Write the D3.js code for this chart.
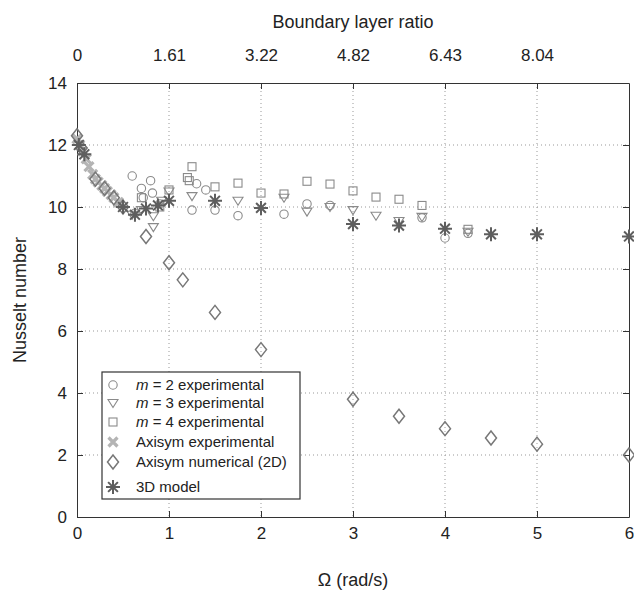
<!DOCTYPE html>
<html>
<head>
<meta charset="utf-8">
<script src="https://cdn.jsdelivr.net/npm/d3@7"></script>
<style>
  body { margin: 0; background: #fff; }
  text { font-family: 'Liberation Sans', Arial, sans-serif; fill: #222; }
</style>
</head>
<body>
<div id="chart"></div>
<script>
// m = 2 experimental (circles)
var m2_x = [0.6, 0.63, 0.7, 0.72, 0.8, 0.82, 0.9, 1.25, 1.3, 1.4, 1.5, 1.75, 2.25, 2.5, 2.75, 3.75, 4.0, 4.25]
var m2_y = [11.0, 9.8, 10.6, 10.3, 10.85, 10.45, 10.1, 9.9, 10.75, 10.55, 9.9, 9.72, 9.77, 10.1, 10.05, 9.65, 9.0, 9.15]
// m = 3 experimental (triangles)
var m3_x = [0.6, 0.7, 0.83, 0.83, 0.92, 1.0, 1.25, 1.75, 2.25, 2.5, 2.75, 3.0, 3.25, 3.5, 3.75, 4.25]
var m3_y = [9.75, 9.9, 9.7, 9.35, 10.2, 10.5, 10.35, 10.2, 10.3, 9.85, 10.0, 9.9, 9.72, 9.55, 9.68, 9.2]
// m = 4 experimental (squares)
var m4_x = [0.7, 0.9, 1.0, 1.2, 1.22, 1.25, 1.5, 1.75, 2.0, 2.25, 2.5, 2.75, 3.0, 3.25, 3.5, 3.75, 4.25]
var m4_y = [10.3, 10.0, 10.55, 10.95, 10.85, 11.3, 10.65, 10.77, 10.45, 10.42, 10.83, 10.74, 10.52, 10.32, 10.25, 10.05, 9.28]
// Axisym experimental (crosses)
var axe_x = [0.0, 0.03, 0.06, 0.1, 0.13, 0.17, 0.2, 0.23, 0.27, 0.3, 0.33, 0.37, 0.4, 0.45]
var axe_y = [12.2, 12.0, 11.8, 11.55, 11.3, 11.05, 10.9, 10.8, 10.7, 10.6, 10.5, 10.4, 10.3, 10.15]
// Axisym numerical 2D (diamonds)
var axn_x = [0.0, 0.05, 0.2, 0.3, 0.4, 0.5, 0.75, 1.0, 1.15, 1.5, 2.0, 3.0, 3.5, 4.0, 4.5, 5.0, 6.0]
var axn_y = [12.3, 11.9, 10.9, 10.6, 10.3, 10.0, 9.05, 8.2, 7.65, 6.6, 5.4, 3.8, 3.25, 2.85, 2.55, 2.35, 2.0]
// 3D model (asterisks)
var m3d_x = [0.02, 0.08, 0.5, 0.63, 0.75, 0.88, 1.0, 1.5, 2.0, 3.0, 3.5, 4.0, 4.5, 5.0, 6.0]
var m3d_y = [12.0, 11.7, 10.0, 9.75, 9.95, 10.05, 10.2, 10.2, 9.97, 9.45, 9.4, 9.3, 9.12, 9.12, 9.05]

var x_ticks = [0, 1, 2, 3, 4, 5, 6]
var y_ticks = [0, 2, 4, 6, 8, 10, 12, 14]
var top_ticks = [0, 1, 2, 3, 4, 5]
var top_labels = ['0', '1.61', '3.22', '4.82', '6.43', '8.04']

var legend_labels = [
  ['m', ' = 2 experimental'],
  ['m', ' = 3 experimental'],
  ['m', ' = 4 experimental'],
  ['', 'Axisym experimental'],
  ['', 'Axisym numerical (2D)'],
  ['', '3D model']
]

var w = 634
var h = 592
// plot box edges (named so they don't clash with window.top)
var pl = 77, pr = 629, pt = 83, pb = 517

var svg = d3.select('#chart').append('svg')
  .attr('width', w)
  .attr('height', h)

var x = d3.scaleLinear().domain([0, 6]).range([pl, pr])
var y = d3.scaleLinear().domain([0, 14]).range([pb, pt])

// grid
var grid = svg.append('g')
x_ticks.slice(1, -1).forEach(function (t) {
  grid.append('line').attr('x1', x(t)).attr('x2', x(t)).attr('y1', pt).attr('y2', pb)
})
y_ticks.slice(1, -1).forEach(function (t) {
  grid.append('line').attr('x1', pl).attr('x2', pr).attr('y1', y(t)).attr('y2', y(t))
})
grid.selectAll('line')
  .attr('stroke', '#999')
  .attr('stroke-width', 1)
  .attr('stroke-dasharray', '1,3')

// axes
var tick_len = 6
var ax_b = svg.append('g').attr('transform', 'translate(0,' + pb + ')')
  .call(d3.axisBottom(x).tickValues(x_ticks).tickFormat(d3.format('d')).tickSizeInner(-tick_len).tickSizeOuter(0).tickPadding(10))
var ax_t = svg.append('g').attr('transform', 'translate(0,' + pt + ')')
  .call(d3.axisTop(x).tickValues(top_ticks).tickFormat(function (d, i) { return top_labels[i] }).tickSizeInner(-tick_len).tickSizeOuter(0).tickPadding(22))
var ax_l = svg.append('g').attr('transform', 'translate(' + pl + ',0)')
  .call(d3.axisLeft(y).tickValues(y_ticks).tickSizeInner(-tick_len).tickSizeOuter(0).tickPadding(10))
var ax_r = svg.append('g').attr('transform', 'translate(' + pr + ',0)')
  .call(d3.axisRight(y).tickValues(y_ticks).tickSizeInner(-tick_len).tickSizeOuter(0).tickFormat(''))

;[ax_b, ax_t, ax_l, ax_r].forEach(function (a) {
  a.select('.domain').attr('stroke', '#333')
  a.selectAll('.tick line').attr('stroke', '#333')
  a.selectAll('.tick text').style('font-size', '17px').attr('fill', '#222')
})

// axis titles
svg.append('text').text('Boundary layer ratio')
  .attr('x', (pl + pr) / 2).attr('y', 22).attr('dy', '0.35em')
  .attr('text-anchor', 'middle').style('font-size', '18px')
svg.append('text').text('Ω (rad/s)')
  .attr('x', (pl + pr) / 2).attr('y', 580).attr('dy', '0.35em')
  .attr('text-anchor', 'middle').style('font-size', '18px')
svg.append('text').text('Nusselt number')
  .attr('transform', 'translate(20,' + ((pt + pb) / 2) + ') rotate(-90)')
  .attr('dy', '0.35em')
  .attr('text-anchor', 'middle').style('font-size', '18px')

// marker drawers
function circle (g, cx, cy) {
  g.append('circle').attr('cx', cx).attr('cy', cy).attr('r', 4.2)
    .attr('fill', 'none').attr('stroke', '#8a8a8a').attr('stroke-width', 1.1)
}
function triangle (g, cx, cy) {
  var s = 5
  g.append('path').attr('d', 'M' + (cx - s) + ',' + (cy - s * 0.7) + 'L' + (cx + s) + ',' + (cy - s * 0.7) + 'L' + cx + ',' + (cy + s * 0.9) + 'Z')
    .attr('fill', 'none').attr('stroke', '#8a8a8a').attr('stroke-width', 1.1)
}
function square (g, cx, cy) {
  g.append('rect').attr('x', cx - 4).attr('y', cy - 4).attr('width', 8).attr('height', 8)
    .attr('fill', 'none').attr('stroke', '#8a8a8a').attr('stroke-width', 1.1)
}
function cross (g, cx, cy) {
  var s = 4.5
  g.append('path').attr('d', 'M' + (cx - s) + ',' + (cy - s) + 'L' + (cx + s) + ',' + (cy + s) + 'M' + (cx - s) + ',' + (cy + s) + 'L' + (cx + s) + ',' + (cy - s))
    .attr('stroke', '#b4b4b4').attr('stroke-width', 3.2).attr('fill', 'none')
}
function diamond (g, cx, cy) {
  g.append('path').attr('d', 'M' + cx + ',' + (cy - 7) + 'L' + (cx + 5.5) + ',' + cy + 'L' + cx + ',' + (cy + 7) + 'L' + (cx - 5.5) + ',' + cy + 'Z')
    .attr('fill', 'none').attr('stroke', '#777').attr('stroke-width', 1.5)
}
function star (g, cx, cy) {
  var s = 7, d = s * 0.7
  g.append('path').attr('d', 'M' + (cx - s) + ',' + cy + 'L' + (cx + s) + ',' + cy +
      'M' + cx + ',' + (cy - s) + 'L' + cx + ',' + (cy + s) +
      'M' + (cx - d) + ',' + (cy - d) + 'L' + (cx + d) + ',' + (cy + d) +
      'M' + (cx - d) + ',' + (cy + d) + 'L' + (cx + d) + ',' + (cy - d))
    .attr('stroke', '#5e5e5e').attr('stroke-width', 2).attr('fill', 'none')
}

var series = [
  { xs: m2_x, ys: m2_y, draw: circle },
  { xs: m3_x, ys: m3_y, draw: triangle },
  { xs: m4_x, ys: m4_y, draw: square },
  { xs: axe_x, ys: axe_y, draw: cross },
  { xs: axn_x, ys: axn_y, draw: diamond },
  { xs: m3d_x, ys: m3d_y, draw: star }
]

var marks = svg.append('g')
series.forEach(function (s) {
  s.xs.forEach(function (v, i) {
    s.draw(marks, x(v), y(s.ys[i]))
  })
})

// legend
var lg = svg.append('g')
lg.append('rect').attr('x', 102).attr('y', 372).attr('width', 198).attr('height', 127)
  .attr('fill', '#fff').attr('stroke', '#333').attr('stroke-width', 1.2)
var row_y = [385, 403, 422, 442, 462, 487]
series.forEach(function (s, i) {
  s.draw(lg, 113, row_y[i])
  var t = lg.append('text').attr('x', 136).attr('y', row_y[i]).attr('dy', '0.35em').style('font-size', '15px')
  if (legend_labels[i][0]) t.append('tspan').style('font-style', 'italic').text(legend_labels[i][0])
  t.append('tspan').text(legend_labels[i][1])
})
</script>
</body>
</html>
